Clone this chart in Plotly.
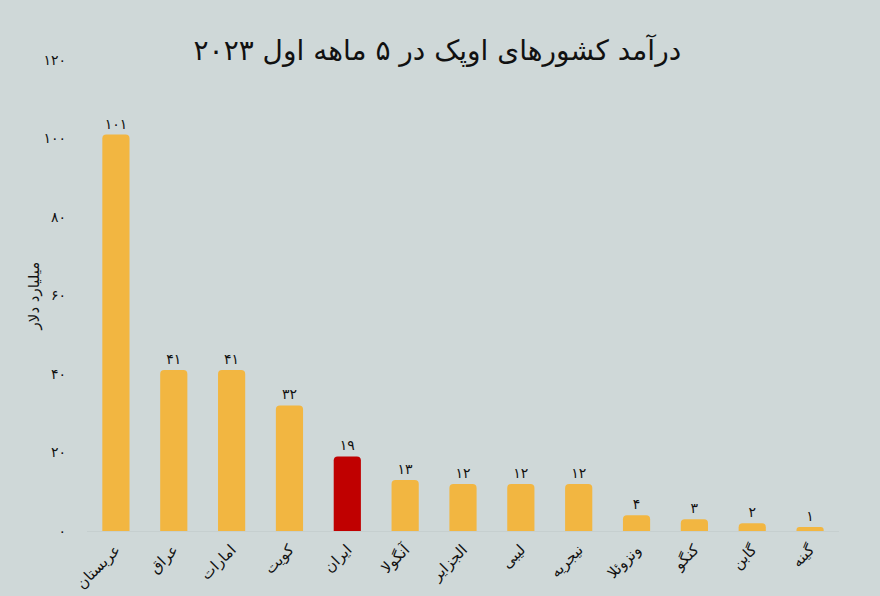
import plotly.graph_objects as go

categories = ["عربستان", "عراق", "امارات", "کویت", "ایران", "آنگولا", "الجزایر",
              "لیبی", "نیجریه", "ونزوئلا", "کنگو", "گابن", "گینه"]
values = [101, 41, 41, 32, 19, 13, 12, 12, 12, 4, 3, 2, 1]
highlight = "ایران"
tick_vals = [0, 20, 40, 60, 80, 100, 120]

fa_digits = str.maketrans("0123456789", "۰۱۲۳۴۵۶۷۸۹")
def fa(n):
    return str(n).translate(fa_digits)

colors = ["#c00000" if c == highlight else "#f2b641" for c in categories]
font = "DejaVu Sans"

fig = go.Figure(go.Bar(
    x=categories, y=values,
    marker=dict(color=colors, line=dict(width=0)),
    text=[fa(v) for v in values], textposition="outside",
    textfont=dict(size=14, color="#111", family=font),
    cliponaxis=False,
))
fig.update_layout(
    width=880, height=596,
    paper_bgcolor="#cfd8d8", plot_bgcolor="#cfd8d8",
    margin=dict(l=87, r=41, t=60, b=65),
    bargap=0.53, barcornerradius=4,
    title=dict(text="درآمد کشورهای اوپک در ۵ ماهه اول ۲۰۲۳", x=0.497, xanchor="center",
               y=0.915, yanchor="middle", font=dict(size=28, color="#111", family=font)),
    showlegend=False,
    font=dict(family=font, color="#111"),
)
fig.update_xaxes(tickangle=-45, tickfont=dict(size=15, family=font), showgrid=False,
                 showline=False, ticks="", ticklabelstandoff=6, automargin=False)
fig.update_yaxes(range=[0, 120], tickvals=tick_vals, ticktext=[fa(v) for v in tick_vals],
                 showgrid=False, zeroline=True, zerolinecolor="#c6cfcf", zerolinewidth=1,
                 tickfont=dict(size=14, family=font), ticklabelstandoff=20,
                 title=dict(text="میلیارد دلار", font=dict(size=15, family=font), standoff=0))
fig.write_html("out.html", config={"displayModeBar": False},
               post_script="document.body.style.margin='0';")
